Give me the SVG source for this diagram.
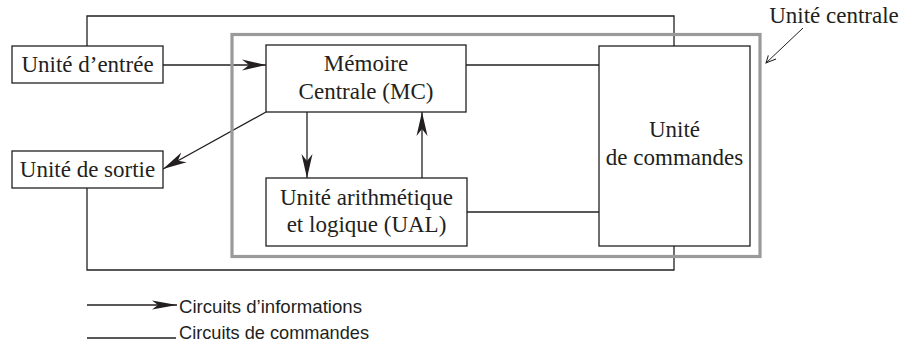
<svg xmlns="http://www.w3.org/2000/svg" width="906" height="345" viewBox="0 0 906 345">
<defs>
<marker id="ah" markerWidth="25" markerHeight="13" refX="24" refY="6.5" orient="auto" markerUnits="userSpaceOnUse">
<path d="M0,1 L24,6.5 L0,12 L7,6.5 Z" fill="#231f20"/>
</marker>
<marker id="ahl" markerWidth="26" markerHeight="10" refX="25" refY="5" orient="auto" markerUnits="userSpaceOnUse">
<path d="M0,0.5 L25,5 L0,9.5 L6,5 Z" fill="#231f20"/>
</marker>
<marker id="ahs" markerWidth="12" markerHeight="10" refX="11" refY="5" orient="auto" markerUnits="userSpaceOnUse">
<path d="M1,1 L11,5 L4,9" fill="none" stroke="#231f20" stroke-width="1"/>
</marker>
</defs>
<style>
.box{fill:#fff;stroke:#231f20;stroke-width:1.3}
.ln{fill:none;stroke:#231f20;stroke-width:1.3}
.t{font-family:'Liberation Serif','Times New Roman','DejaVu Serif',serif;font-size:23px;fill:#231f20;text-anchor:middle}
.lg{font-family:'Liberation Sans',Arial,sans-serif;font-size:19px;fill:#231f20}
</style>
<rect width="906" height="345" fill="#fff"/>
<g id="connectors">
<polyline class="ln" points="87,46 87,16 674,16 674,46"/>
<polyline class="ln" points="87,188 87,270 674,270 674,246"/>
<line class="ln" x1="466" y1="65" x2="599" y2="65"/>
<line class="ln" x1="467" y1="212" x2="599" y2="212"/>
<line class="ln" x1="163" y1="65" x2="266" y2="65" marker-end="url(#ah)"/>
<line class="ln" x1="266" y1="112" x2="163" y2="169" marker-end="url(#ah)"/>
<line class="ln" x1="307" y1="112" x2="307" y2="178" marker-end="url(#ah)"/>
<line class="ln" x1="422" y1="178" x2="422" y2="112" marker-end="url(#ah)"/>
</g>
<g id="unite-centrale">
<rect x="232" y="34.5" width="528" height="222" fill="none" stroke="#9a9a9a" stroke-width="3.2"/>
<text class="t" x="834" y="23">Unité centrale</text>
<line x1="803" y1="28" x2="766" y2="63" stroke="#231f20" stroke-width="1" marker-end="url(#ahs)"/>
</g>
<g id="entree">
<rect class="box" x="12" y="46" width="151" height="37"/>
<text class="t" x="87.5" y="72">Unité d’entrée</text>
</g>
<g id="sortie">
<rect class="box" x="12" y="151" width="151" height="37"/>
<text class="t" x="87.5" y="177">Unité de sortie</text>
</g>
<g id="memoire">
<rect class="box" x="266" y="45" width="200" height="67"/>
<text class="t" x="366" y="71">Mémoire</text>
<text class="t" x="366" y="99">Centrale (MC)</text>
</g>
<g id="ual">
<rect class="box" x="266" y="178" width="201" height="68"/>
<text class="t" x="366.5" y="205">Unité arithmétique</text>
<text class="t" x="366.5" y="232">et logique (UAL)</text>
</g>
<g id="commandes">
<rect class="box" x="599" y="46" width="151" height="200"/>
<text class="t" x="674.5" y="137">Unité</text>
<text class="t" x="674.5" y="165">de commandes</text>
</g>
<g id="legende">
<line class="ln" x1="87" y1="305" x2="177" y2="305" marker-end="url(#ahl)"/>
<text class="lg" x="179" y="313" textLength="183" lengthAdjust="spacingAndGlyphs">Circuits d’informations</text>
<line class="ln" x1="87" y1="338" x2="176" y2="338"/>
<text class="lg" x="179" y="339" textLength="190" lengthAdjust="spacingAndGlyphs">Circuits de commandes</text>
</g>
</svg>
